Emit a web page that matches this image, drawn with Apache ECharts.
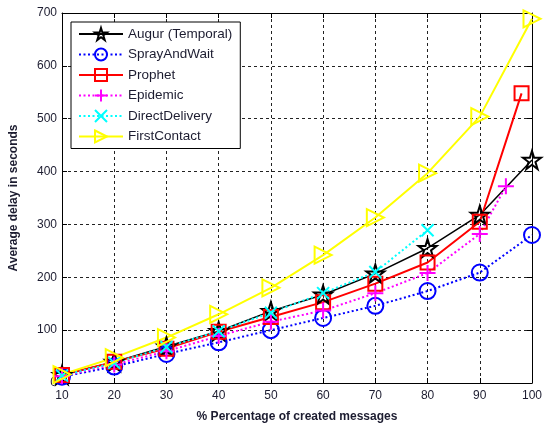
<!DOCTYPE html>
<html>
<head>
<meta charset="utf-8">
<script src="https://cdn.jsdelivr.net/npm/echarts@6/dist/echarts.min.js"></script>
<style>
  html, body { margin: 0; padding: 0; background: #fff; }
  #chart { width: 546px; height: 428px; }
</style>
</head>
<body>
<div id="chart"></div>
<script>
// Percentage of created messages (x) and average delay in seconds (y)
const xAugur   = [10, 20, 30, 40, 50, 60, 70, 80, 90, 100];
const yAugur   = [15, 40, 69, 98, 136, 167, 207, 255, 318, 422];
const xSpray   = [10, 20, 30, 40, 50, 60, 70, 80, 90, 100];
const ySpray   = [12, 31, 55, 77, 100, 123, 146, 174, 209, 280];
const xProphet = [10, 20, 30, 40, 50, 60, 70, 80, 90, 98];
const yProphet = [15, 40, 65, 97, 125, 153, 188, 228, 305, 548];
const xEpidemic = [10, 20, 30, 40, 50, 60, 70, 80, 90, 95];
const yEpidemic = [13, 35, 60, 89, 116, 137, 170, 208, 282, 372];
const xDirect  = [10, 20, 30, 40, 50, 60, 70, 80];
const yDirect  = [14, 38, 68, 98, 133, 170, 210, 289];
const xFirst   = [10, 20, 30, 40, 50, 60, 70, 80, 90, 100];
const yFirst   = [16, 48, 86, 130, 180, 242, 313, 397, 504, 689];

const seriesNames = ['Augur (Temporal)', 'SprayAndWait', 'Prophet', 'Epidemic', 'DirectDelivery', 'FirstContact'];
const xTicks = [10, 20, 30, 40, 50, 60, 70, 80, 90, 100];

const STAR = 'path://M50,0 L61.23,34.55 L97.55,34.55 L68.17,55.9 L79.39,90.45 L50,69.1 L20.61,90.45 L31.83,55.9 L2.45,34.55 L38.77,34.55 Z';
const TRI_RIGHT = 'path://M0,0 L100,50 L0,100 Z';
const PLUS = 'path://M50,0 L50,100 M0,50 L100,50';
const CROSS = 'path://M0,0 L100,100 M100,0 L0,100';
const SQUARE = 'path://M0,0 L100,0 L100,100 L0,100 Z';
const CIRCLE = 'circle';

const zip = (xs, ys) => xs.map((x, i) => [x, ys[i]]);

function makeSeries(name, xs, ys, color, dash, width, symbol, size) {
  return {
    name: name,
    type: 'line',
    data: zip(xs, ys),
    symbol: symbol,
    symbolSize: size,
    showAllSymbol: true,
    clip: false,
    lineStyle: { color: color, width: width, type: dash },
    itemStyle: { color: 'rgba(255,255,255,0)', borderColor: color, borderWidth: 2 },
    emphasis: { disabled: true },
    animation: false
  };
}

const fontFam = 'Arial, "Liberation Sans", sans-serif';
const textColor = '#1c1c30';

const chart = echarts.init(document.getElementById('chart'), null, { renderer: 'canvas' });

chart.setOption({
  backgroundColor: '#ffffff',
  animation: false,
  grid: { left: 62, right: 14, top: 13, bottom: 44, show: false },
  legend: {
    orient: 'vertical',
    left: 71,
    top: 22,
    padding: [5, 8, 5, 7],
    itemWidth: 44,
    itemHeight: 15,
    itemGap: 6.5,
    borderColor: '#000',
    borderWidth: 1,
    backgroundColor: '#fff',
    data: seriesNames,
    textStyle: { fontFamily: fontFam, fontSize: 13.5, color: textColor },
    selectedMode: false
  },
  xAxis: [{
    type: 'value',
    min: 10, max: 100, interval: 10,
    name: '% Percentage of created messages',
    nameLocation: 'middle',
    nameGap: 28,
    nameTextStyle: { fontFamily: fontFam, fontSize: 12, fontWeight: 'bold', color: textColor },
    axisLine: { show: true, lineStyle: { color: '#000', width: 1 } },
    axisTick: { show: true, inside: true, length: 5, lineStyle: { color: '#000' } },
    axisLabel: { fontFamily: fontFam, fontSize: 12, color: textColor, margin: 7,
      formatter: v => (xTicks.includes(v) ? String(v) : '') },
    splitLine: { show: true, lineStyle: { color: '#222', type: [3, 3], width: 1 } }
  }, {
    type: 'value', position: 'top',
    min: 10, max: 100, interval: 10,
    axisLine: { show: true, onZero: false, lineStyle: { color: '#000', width: 1 } },
    axisTick: { show: true, inside: true, length: 5, lineStyle: { color: '#000' } },
    axisLabel: { show: false },
    splitLine: { show: false }
  }],
  yAxis: [{
    type: 'value',
    min: 0, max: 700, interval: 100,
    name: 'Average delay in seconds',
    nameLocation: 'middle',
    nameGap: 42,
    nameTextStyle: { fontFamily: fontFam, fontSize: 12, fontWeight: 'bold', color: textColor },
    axisLine: { show: true, lineStyle: { color: '#000', width: 1 } },
    axisTick: { show: true, inside: true, length: 5, lineStyle: { color: '#000' } },
    axisLabel: { fontFamily: fontFam, fontSize: 12, color: textColor, margin: 5 },
    splitLine: { show: true, lineStyle: { color: '#222', type: [3, 3], width: 1 } }
  }, {
    type: 'value', position: 'right',
    min: 0, max: 700, interval: 100,
    axisLine: { show: true, onZero: false, lineStyle: { color: '#000', width: 1 } },
    axisTick: { show: true, inside: true, length: 5, lineStyle: { color: '#000' } },
    axisLabel: { show: false },
    splitLine: { show: false }
  }],
  series: [
    makeSeries(seriesNames[0], xAugur, yAugur, '#000000', 'solid', 1.5, STAR, 18),
    makeSeries(seriesNames[1], xSpray, ySpray, '#0000ff', [2, 2.5], 2, CIRCLE, 16),
    makeSeries(seriesNames[2], xProphet, yProphet, '#ff0000', 'solid', 2, SQUARE, 14),
    makeSeries(seriesNames[3], xEpidemic, yEpidemic, '#ff00ff', [2, 2.5], 2, PLUS, 16),
    makeSeries(seriesNames[4], xDirect, yDirect, '#00ffff', [2, 2.5], 2, CROSS, 12),
    makeSeries(seriesNames[5], xFirst, yFirst, '#ffff00', 'solid', 2, TRI_RIGHT, 17)
  ]
});
</script>
</body>
</html>
